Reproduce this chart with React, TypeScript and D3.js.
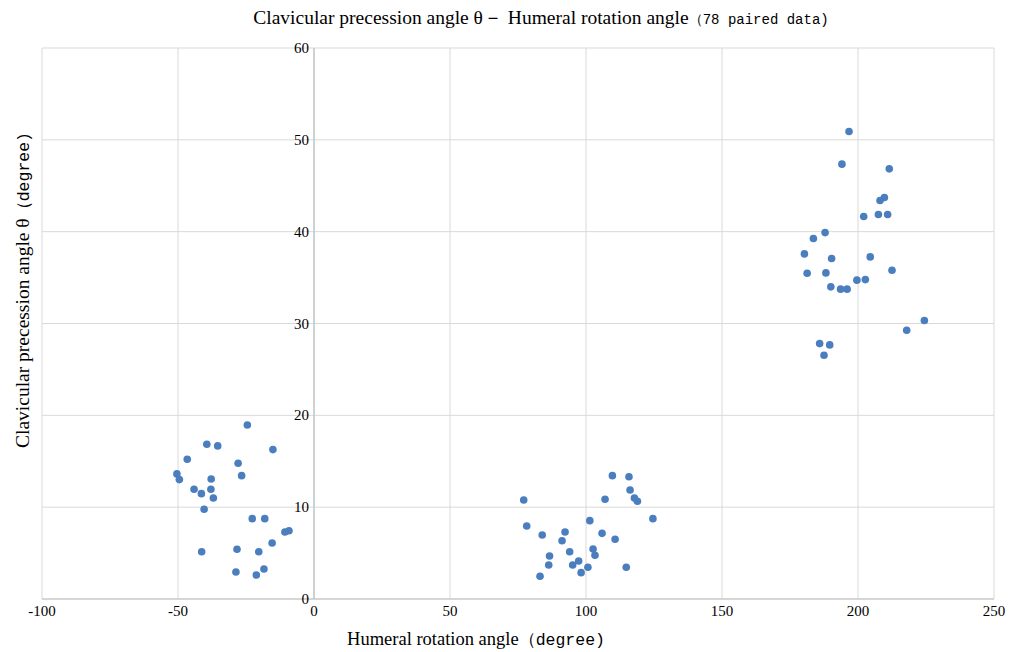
import React, { useEffect, useRef } from 'react';
import * as d3 from 'd3';

// humeral rotation angle (x), clavicular precession angle (y)
const humeral = [
  -24.5, -39.4, -35.4, -15.1, -46.6, -27.9, -50.4, -49.5, -26.6, -37.8, -44.1, -41.4, -37.9,
  -37.0, -40.4, -22.7, -18.1, -10.7, -9.2, -15.4, -41.3, -28.3, -20.3, -28.7, -18.4, -21.2,
  109.7, 115.8, 116.2, 77.1, 107.0, 117.8, 118.9, 124.6, 101.4, 78.2, 92.3, 105.9, 83.9,
  110.7, 91.2, 102.6, 94.0, 103.3, 86.6, 97.3, 95.1, 86.3, 114.8, 100.7, 98.2, 83.1,
  196.7, 194.1, 211.5, 209.7, 208.1, 202.1, 207.5, 210.9, 187.9, 183.6, 180.3, 190.3, 204.5,
  181.3, 188.2, 212.5, 199.6, 202.7, 190.0, 193.6, 196.0, 224.4, 217.9, 185.9, 189.6, 187.5,
];
const clavicular = [
  18.95, 16.85, 16.67, 16.27, 15.22, 14.78, 13.62, 13.0, 13.43, 13.07, 11.95, 11.47, 11.95,
  11.0, 9.77, 8.75, 8.75, 7.3, 7.44, 6.1, 5.15, 5.41, 5.15, 2.94, 3.27, 2.61,
  13.43, 13.32, 11.87, 10.78, 10.86, 11.0, 10.64, 8.75, 8.53, 7.95, 7.3, 7.15, 6.97,
  6.5, 6.35, 5.45, 5.15, 4.76, 4.68, 4.14, 3.7, 3.7, 3.45, 3.45, 2.87, 2.47,
  50.9, 47.35, 46.84, 43.72, 43.4, 41.65, 41.87, 41.87, 39.9, 39.25, 37.58, 37.07, 37.25,
  35.48, 35.51, 35.8, 34.72, 34.78, 33.99, 33.74, 33.74, 30.32, 29.27, 27.81, 27.67, 26.55,
];
const xTicks = [-100, -50, 0, 50, 100, 150, 200, 250];
const yTicks = [0, 10, 20, 30, 40, 50, 60];

const serif = '"Liberation Serif", "Times New Roman", serif';
const mono = '"Liberation Mono", monospace';

export default function App() {
  const ref = useRef<SVGSVGElement>(null);

  useEffect(() => {
    const svg = d3.select(ref.current);
    svg.selectAll('*').remove();

    const left = 42, right = 994, top = 48, bottom = 599;
    const x = d3.scaleLinear().domain([-100, 250]).range([left, right]);
    const y = d3.scaleLinear().domain([0, 60]).range([bottom, top]);

    const g = svg.append('g');

    // grid
    g.selectAll('.vg').data(xTicks).enter().append('line')
      .attr('x1', d => x(d)).attr('x2', d => x(d))
      .attr('y1', top).attr('y2', bottom)
      .style('stroke', '#d9d9d9').style('stroke-width', 1);
    g.selectAll('.hg').data(yTicks).enter().append('line')
      .attr('x1', left).attr('x2', right)
      .attr('y1', d => y(d)).attr('y2', d => y(d))
      .style('stroke', '#d9d9d9').style('stroke-width', 1);

    // axis lines
    g.append('line')
      .attr('x1', x(0)).attr('x2', x(0)).attr('y1', top).attr('y2', bottom)
      .style('stroke', '#bfbfbf').style('stroke-width', 1.2);
    g.append('line')
      .attr('x1', left).attr('x2', right).attr('y1', bottom).attr('y2', bottom)
      .style('stroke', '#bfbfbf').style('stroke-width', 1.2);

    // tick labels
    g.selectAll('.xt').data(xTicks).enter().append('text')
      .attr('x', d => x(d)).attr('y', bottom + 17)
      .attr('text-anchor', 'middle')
      .style('font-family', serif).style('font-size', '15px').style('fill', '#000')
      .text(d => String(d));
    g.selectAll('.yt').data(yTicks).enter().append('text')
      .attr('x', x(0) - 5).attr('y', d => y(d) + 5)
      .attr('text-anchor', 'end')
      .style('font-family', serif).style('font-size', '15px').style('fill', '#000')
      .text(d => String(d));

    // points
    g.selectAll('circle').data(humeral).enter().append('circle')
      .attr('cx', d => x(d))
      .attr('cy', (d, i) => y(clavicular[i]))
      .attr('r', 3.8)
      .style('fill', '#4a7ebf');

    // title
    const title = svg.append('text')
      .attr('x', 541).attr('y', 24).attr('text-anchor', 'middle')
      .style('font-family', serif).style('font-size', '19.5px').style('fill', '#000');
    title.append('tspan').text('Clavicular precession angle θ－ Humeral rotation angle');
    title.append('tspan').style('font-family', mono).style('font-size', '14px').text('（78 paired data)');

    // x label
    const xl = svg.append('text')
      .attr('x', 476).attr('y', 645).attr('text-anchor', 'middle')
      .style('font-family', serif).style('font-size', '18.5px').style('fill', '#000');
    xl.append('tspan').text('Humeral rotation angle');
    xl.append('tspan').style('font-family', mono).style('font-size', '16.5px').text('（degree)');

    // y label
    const yl = svg.append('text')
      .attr('transform', 'translate(29,290) rotate(-90)').attr('text-anchor', 'middle')
      .style('font-family', serif).style('font-size', '19.5px').style('fill', '#000');
    yl.append('tspan').text('Clavicular precession angle θ');
    yl.append('tspan').style('font-family', mono).style('font-size', '16.5px').text('（degree)');
  }, []);

  return (
    <div>
      <svg ref={ref} width={1011} height={652} style={{ position: 'absolute', left: 0, top: 0, background: '#fff' }}></svg>
    </div>
  );
}
